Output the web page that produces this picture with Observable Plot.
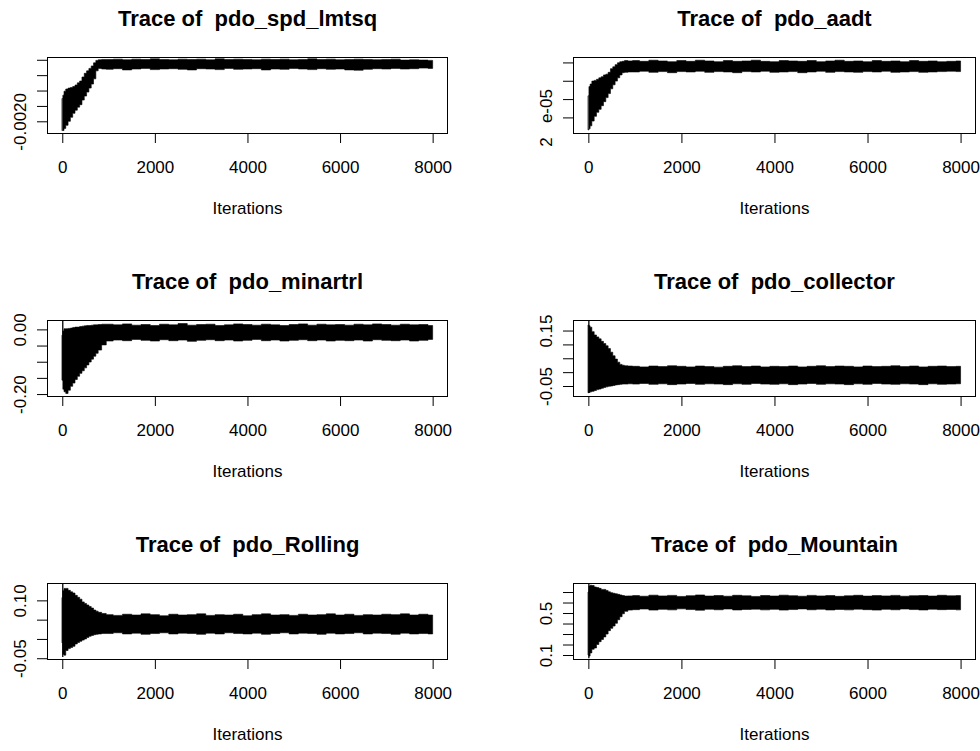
<!DOCTYPE html>
<html>
<head>
<meta charset="utf-8">
<script src="https://cdn.jsdelivr.net/npm/d3@7"></script>
<script src="https://cdn.jsdelivr.net/npm/@observablehq/plot@0.6"></script>
<style>
  html, body { margin: 0; padding: 0; background: #fff; }
  #page { position: relative; width: 980px; height: 751px; overflow: hidden; background: #fff; }
  .panel { position: absolute; }
</style>
</head>
<body>
<div id="page"></div>
<script>
// MCMC iteration grid at which the band of each chain (lowest / highest draw) is recorded
const iteration = [0, 25, 50, 100, 150, 200, 250, 300, 350, 400, 450, 500, 550, 600, 650, 700, 750, 800, 900,
  1000, 1200, 1400, 1600, 1800, 2000, 2200, 2400, 2600, 2800, 3000, 3200, 3400, 3600, 3800, 4000, 4200, 4400,
  4600, 4800, 5000, 5200, 5400, 5600, 5800, 6000, 6200, 6400, 6600, 6800, 7000, 7200, 7400, 7600, 7800, 8000];

const xTicks = [0, 2000, 4000, 6000, 8000];

// pdo_spd_lmtsq
const spdLow = [-0.00230, -0.00230, -0.00223, -0.00213, -0.00200, -0.00187, -0.00174, -0.00164, -0.00154, -0.00146,
  -0.00131, -0.00118, -0.00105, -0.00092, -0.00079, -0.00062, -0.00036, -0.00028, -0.00030,
  -0.00031, -0.00029, -0.00033, -0.00030, -0.00028, -0.00032, -0.00030, -0.00029, -0.00031, -0.00033,
  -0.00029, -0.00030, -0.00032, -0.00028, -0.00031, -0.00030, -0.00029, -0.00033, -0.00030, -0.00031,
  -0.00028, -0.00030, -0.00032, -0.00029, -0.00031, -0.00030, -0.00033, -0.00034, -0.00031, -0.00029,
  -0.00030, -0.00028, -0.00030, -0.00029, -0.00027, -0.00028];
const spdHigh = [-0.00126, -0.00115, -0.00102, -0.00095, -0.00092, -0.00090, -0.00087, -0.00082, -0.00075, -0.00069,
  -0.00056, -0.00044, -0.00036, -0.00028, -0.00020, -0.00010, -0.00002, 0.00000, 0.00001,
  0.00001, 0.00002, 0.00000, 0.00002, 0.00001, 0.00003, 0.00001, 0.00000, 0.00002, 0.00001,
  0.00002, 0.00000, 0.00003, 0.00001, 0.00002, 0.00001, 0.00000, 0.00002, 0.00001, 0.00002,
  0.00000, 0.00001, 0.00003, 0.00001, 0.00002, 0.00000, 0.00001, 0.00002, 0.00001, 0.00000,
  0.00001, 0.00002, -0.00001, 0.00000, -0.00001, -0.00002];
const spdTicks = [-0.0020, -0.0015, -0.0010, -0.0005, 0.0000];
const spdLabelTicks = [-0.0020];
const spdLabelTexts = ["-0.0020"];

// pdo_aadt
const aadtLow = [1.66e-5, 1.69e-5, 1.77e-5, 1.90e-5, 2.03e-5, 2.14e-5, 2.22e-5, 2.32e-5, 2.43e-5, 2.54e-5,
  2.65e-5, 2.78e-5, 2.89e-5, 2.99e-5, 3.08e-5, 3.16e-5, 3.22e-5, 3.23e-5, 3.24e-5,
  3.24e-5, 3.26e-5, 3.23e-5, 3.25e-5, 3.22e-5, 3.25e-5, 3.24e-5, 3.26e-5, 3.23e-5, 3.25e-5,
  3.24e-5, 3.22e-5, 3.25e-5, 3.24e-5, 3.26e-5, 3.23e-5, 3.24e-5, 3.25e-5, 3.22e-5, 3.24e-5,
  3.26e-5, 3.23e-5, 3.25e-5, 3.24e-5, 3.23e-5, 3.25e-5, 3.24e-5, 3.26e-5, 3.23e-5, 3.24e-5,
  3.25e-5, 3.23e-5, 3.24e-5, 3.25e-5, 3.26e-5, 3.25e-5];
const aadtHigh = [2.59e-5, 2.84e-5, 2.91e-5, 2.99e-5, 3.01e-5, 3.04e-5, 3.08e-5, 3.11e-5, 3.16e-5, 3.18e-5,
  3.23e-5, 3.33e-5, 3.38e-5, 3.44e-5, 3.49e-5, 3.52e-5, 3.53e-5, 3.55e-5, 3.54e-5,
  3.55e-5, 3.53e-5, 3.56e-5, 3.54e-5, 3.52e-5, 3.55e-5, 3.53e-5, 3.56e-5, 3.54e-5, 3.52e-5,
  3.55e-5, 3.53e-5, 3.54e-5, 3.56e-5, 3.53e-5, 3.52e-5, 3.55e-5, 3.54e-5, 3.53e-5, 3.55e-5,
  3.52e-5, 3.54e-5, 3.56e-5, 3.53e-5, 3.54e-5, 3.52e-5, 3.55e-5, 3.53e-5, 3.54e-5, 3.52e-5,
  3.55e-5, 3.53e-5, 3.54e-5, 3.52e-5, 3.53e-5, 3.54e-5];
const aadtTicks = [2.0e-5, 2.5e-5, 3.0e-5, 3.5e-5];
const aadtLabelTicks = [2.0e-5];
const aadtLabelTexts = ["2\u00a0\u00a0\u00a0e-05"];

// pdo_minartrl
const minartrlLow = [-0.157, -0.185, -0.193, -0.198, -0.188, -0.176, -0.166, -0.155, -0.145, -0.136,
  -0.128, -0.119, -0.110, -0.101, -0.092, -0.083, -0.074, -0.064, -0.048,
  -0.036, -0.033, -0.035, -0.031, -0.034, -0.036, -0.032, -0.035, -0.033, -0.037,
  -0.034, -0.032, -0.035, -0.033, -0.036, -0.034, -0.031, -0.035, -0.033, -0.036,
  -0.034, -0.032, -0.035, -0.033, -0.036, -0.034, -0.035, -0.033, -0.036, -0.032,
  -0.034, -0.035, -0.033, -0.036, -0.034, -0.031];
const minartrlHigh = [-0.018, -0.005, 0.002, 0.002, 0.003, 0.004, 0.006, 0.007, 0.007, 0.009,
  0.010, 0.011, 0.012, 0.012, 0.013, 0.014, 0.014, 0.015, 0.016,
  0.016, 0.014, 0.017, 0.013, 0.015, 0.012, 0.016, 0.014, 0.018, 0.013,
  0.015, 0.016, 0.012, 0.014, 0.017, 0.015, 0.013, 0.016, 0.014, 0.012,
  0.015, 0.017, 0.013, 0.016, 0.014, 0.015, 0.013, 0.016, 0.014, 0.017,
  0.015, 0.013, 0.016, 0.014, 0.015, 0.012];
const minartrlTicks = [-0.20, -0.15, -0.10, -0.05, 0.00];
const minartrlLabelTicks = [-0.20, 0.00];
const minartrlLabelTexts = ["-0.20", "0.00"];

// pdo_collector
const collectorLow = [-0.074, -0.073, -0.071, -0.069, -0.066, -0.063, -0.061, -0.058, -0.055, -0.053,
  -0.051, -0.050, -0.048, -0.046, -0.045, -0.044, -0.043, -0.043, -0.042,
  -0.043, -0.041, -0.044, -0.042, -0.045, -0.043, -0.041, -0.044, -0.042, -0.043,
  -0.045, -0.042, -0.044, -0.041, -0.043, -0.044, -0.042, -0.045, -0.043, -0.041,
  -0.044, -0.042, -0.043, -0.045, -0.042, -0.044, -0.041, -0.043, -0.044, -0.042,
  -0.043, -0.045, -0.042, -0.044, -0.043, -0.042];
const collectorHigh = [0.170, 0.167, 0.162, 0.146, 0.134, 0.127, 0.120, 0.111, 0.103, 0.095,
  0.085, 0.072, 0.059, 0.047, 0.036, 0.028, 0.025, 0.023, 0.022,
  0.021, 0.019, 0.022, 0.020, 0.023, 0.021, 0.019, 0.022, 0.020, 0.018,
  0.021, 0.023, 0.020, 0.022, 0.019, 0.021, 0.020, 0.022, 0.019, 0.021,
  0.023, 0.020, 0.022, 0.021, 0.019, 0.022, 0.020, 0.021, 0.023, 0.020,
  0.022, 0.019, 0.021, 0.022, 0.020, 0.021];
const collectorTicks = [-0.05, 0.00, 0.05, 0.10, 0.15];
const collectorLabelTicks = [-0.05, 0.15];
const collectorLabelTexts = ["-0.05", "0.15"];

// pdo_Rolling
const rollingLow = [-0.010, -0.040, -0.042, -0.030, -0.025, -0.022, -0.019, -0.013, -0.009, -0.006,
  -0.003, 0.000, 0.004, 0.007, 0.009, 0.011, 0.012, 0.013, 0.014,
  0.014, 0.016, 0.013, 0.015, 0.012, 0.014, 0.016, 0.013, 0.015, 0.014,
  0.012, 0.015, 0.013, 0.016, 0.014, 0.013, 0.015, 0.012, 0.014, 0.016,
  0.013, 0.015, 0.014, 0.012, 0.015, 0.013, 0.014, 0.016, 0.013, 0.015,
  0.014, 0.012, 0.015, 0.013, 0.014, 0.013];
const rollingHigh = [0.107, 0.125, 0.131, 0.131, 0.126, 0.122, 0.119, 0.113, 0.108, 0.103,
  0.096, 0.092, 0.088, 0.084, 0.080, 0.075, 0.072, 0.069, 0.066,
  0.063, 0.061, 0.064, 0.062, 0.065, 0.063, 0.060, 0.064, 0.062, 0.063,
  0.065, 0.061, 0.063, 0.062, 0.064, 0.060, 0.063, 0.065, 0.062, 0.063,
  0.061, 0.064, 0.062, 0.063, 0.065, 0.062, 0.064, 0.061, 0.063, 0.062,
  0.064, 0.063, 0.065, 0.062, 0.064, 0.062];
const rollingTicks = [-0.05, 0.00, 0.05, 0.10];
const rollingLabelTicks = [-0.05, 0.10];
const rollingLabelTexts = ["-0.05", "0.10"];

// pdo_Mountain
const mountainLow = [0.100, 0.090, 0.120, 0.155, 0.167, 0.200, 0.227, 0.248, 0.272, 0.300,
  0.332, 0.354, 0.376, 0.402, 0.436, 0.465, 0.493, 0.516, 0.528,
  0.532, 0.538, 0.528, 0.535, 0.530, 0.540, 0.533, 0.527, 0.536, 0.531,
  0.538, 0.529, 0.534, 0.537, 0.530, 0.535, 0.528, 0.533, 0.539, 0.531,
  0.536, 0.529, 0.534, 0.530, 0.537, 0.532, 0.528, 0.535, 0.531, 0.538,
  0.533, 0.529, 0.536, 0.532, 0.534, 0.530];
const mountainHigh = [0.700, 0.758, 0.765, 0.762, 0.748, 0.743, 0.735, 0.725, 0.725, 0.715,
  0.702, 0.694, 0.688, 0.683, 0.678, 0.672, 0.667, 0.662, 0.663,
  0.666, 0.660, 0.670, 0.663, 0.668, 0.658, 0.665, 0.672, 0.662, 0.667,
  0.660, 0.669, 0.664, 0.658, 0.667, 0.662, 0.670, 0.665, 0.660, 0.668,
  0.663, 0.666, 0.659, 0.664, 0.669, 0.661, 0.666, 0.663, 0.668, 0.660,
  0.665, 0.667, 0.662, 0.669, 0.664, 0.666];
const mountainTicks = [0.1, 0.2, 0.3, 0.4, 0.5, 0.6, 0.7];
const mountainLabelTicks = [0.1, 0.5];
const mountainLabelTexts = ["0.1", "0.5"];

// The starting draw of a chain (iteration 0), drawn as a single vertical stroke
const firstDrawLow = [null, null, -0.157, -0.075, -0.047, 0.070];
const firstDrawHigh = [null, null, 0.026, 0.186, 0.143, 0.780];

const panels = [
  {name: "pdo_spd_lmtsq", low: spdLow, high: spdHigh, domain: [-0.00238, 0.00009], ticks: spdTicks, labelTicks: spdLabelTicks, labelTexts: spdLabelTexts},
  {name: "pdo_aadt", low: aadtLow, high: aadtHigh, domain: [1.575e-5, 3.648e-5], ticks: aadtTicks, labelTicks: aadtLabelTicks, labelTexts: aadtLabelTexts},
  {name: "pdo_minartrl", low: minartrlLow, high: minartrlHigh, domain: [-0.206, 0.029], ticks: minartrlTicks, labelTicks: minartrlLabelTicks, labelTexts: minartrlLabelTexts},
  {name: "pdo_collector", low: collectorLow, high: collectorHigh, domain: [-0.086, 0.188], ticks: collectorTicks, labelTicks: collectorLabelTicks, labelTexts: collectorLabelTexts},
  {name: "pdo_Rolling", low: rollingLow, high: rollingHigh, domain: [-0.052, 0.145], ticks: rollingTicks, labelTicks: rollingLabelTicks, labelTexts: rollingLabelTexts},
  {name: "pdo_Mountain", low: mountainLow, high: mountainHigh, domain: [0.062, 0.786], ticks: mountainTicks, labelTicks: mountainLabelTicks, labelTexts: mountainLabelTexts}
];

const FONT = "'Liberation Sans', Arial, Helvetica, sans-serif";
const rowTop = [0, 263, 526];
const colLeft = [0, 490];
const colMargins = [{left: 47, right: 43}, {left: 83, right: 5}];

function tracePlot(p, k) {
  const col = k % 2;
  const rows = iteration.map((it, i) => ({iteration: it, low: p.low[i], high: p.high[i]}));
  const marks = [
    // the band swept by the chain: rough, step-wise edges like a dense trace
    Plot.areaY(rows, {x: "iteration", y1: "low", y2: "high", curve: "step", fill: "#000", stroke: "#000", strokeWidth: 0.6})
  ];
  if (firstDrawLow[k] != null) {
    marks.push(Plot.ruleX([0], {x: d => d, y1: () => firstDrawLow[k], y2: () => firstDrawHigh[k], stroke: "#000", strokeWidth: 1.3}));
  }
  marks.push(
    Plot.frame({stroke: "#000", strokeWidth: 1}),
    Plot.axisX(xTicks, {tickSize: 10, tickPadding: 17, tickFormat: d => String(d), label: null}),
    Plot.axisY(p.ticks, {tickSize: 10, tickFormat: () => "", label: null}),
    Plot.text(p.labelTicks, {
      y: d => d, text: (d, i) => p.labelTexts[i], frameAnchor: "left", dx: -22,
      rotate: -90, textAnchor: "middle", lineAnchor: "bottom", fontSize: 17
    }),
    Plot.text(["Trace of\u00a0\u00a0" + p.name], {
      text: d => d, frameAnchor: "top", dy: -32, lineAnchor: "bottom", fontSize: 22, fontWeight: "bold"
    }),
    Plot.text(["Iterations"], {text: d => d, frameAnchor: "bottom", dy: 80.5, lineAnchor: "bottom", fontSize: 17})
  );
  return Plot.plot({
    width: 490,
    height: 223,
    marginTop: 57,
    marginBottom: 90,
    marginLeft: colMargins[col].left,
    marginRight: colMargins[col].right,
    x: {domain: [-330, 8310]},
    y: {domain: p.domain},
    style: {fontFamily: FONT, fontSize: "17px", color: "#000", background: "transparent", overflow: "visible"},
    marks
  });
}

const page = document.getElementById("page");
panels.forEach((p, k) => {
  const wrap = document.createElement("div");
  wrap.className = "panel";
  wrap.style.left = colLeft[k % 2] + "px";
  wrap.style.top = rowTop[Math.floor(k / 2)] + "px";
  wrap.appendChild(tracePlot(p, k));
  page.appendChild(wrap);
});
</script>
</body>
</html>
